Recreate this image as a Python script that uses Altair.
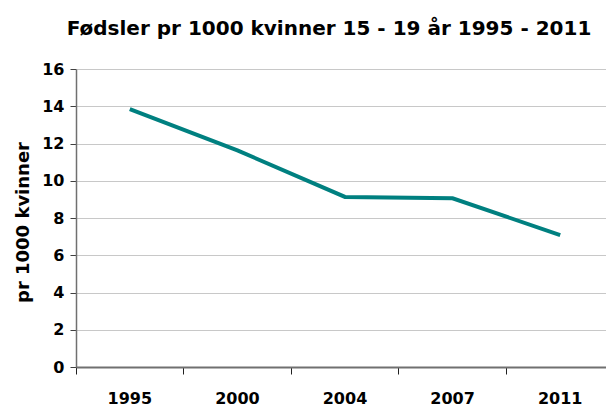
import altair as alt
import pandas as pd

years = ["1995", "2000", "2004", "2007", "2011"]
values = [13.85, 11.63, 9.13, 9.06, 7.08]
y_ticks = [0, 2, 4, 6, 8, 10, 12, 14, 16]

df = pd.DataFrame({"year": years, "value": values})

FONT = "DejaVu Sans"

x_scale = alt.Scale(type="band", domain=years, paddingInner=0, paddingOuter=0, range=[0, 538])
y_scale = alt.Scale(domain=[0, 16], nice=False)

y_axis = alt.Axis(orient="left", title="pr 1000 kvinner", values=y_ticks, labelOverlap=False,
                  grid=True, gridColor="#c8c8c8", gridWidth=1,
                  domainColor="#707070", domainWidth=1.5,
                  tickColor="#404040", tickSize=6,
                  labelFont=FONT, labelFontSize=16, labelFontWeight="bold",
                  labelColor="#000000", labelPadding=6,
                  titleFont=FONT, titleFontSize=18, titleFontWeight="bold",
                  titleColor="#000000", titleX=-53, titleY=153,
                  titleAngle=-90, titleBaseline="middle", titleAlign="center")

line = alt.Chart(df).mark_line(color="#008080", strokeWidth=4).encode(
    x=alt.X("year:N", scale=x_scale, sort=years,
            axis=alt.Axis(orient="bottom", title=None, ticks=False, domain=False, grid=False,
                          labelAngle=0, labelFont=FONT, labelFontSize=16,
                          labelFontWeight="bold", labelColor="#000000",
                          labelPadding=23)),
    y=alt.Y("value:Q", scale=y_scale, axis=y_axis),
)

ticks = alt.Chart(df).mark_line(opacity=0).encode(
    x=alt.X("year:N", scale=x_scale, sort=years,
            axis=alt.Axis(orient="bottom", title=None, labels=False, grid=False, bandPosition=0,
                          domainColor="#707070", domainWidth=2,
                          tickColor="#202020", tickSize=7)),
    y=alt.Y("value:Q", scale=y_scale, axis=y_axis),
)

chart = alt.layer(ticks, line).resolve_axis(x="independent", y="shared").properties(
    width=530,
    height=298,
    autosize=alt.AutoSizeParams(type="none"),
    padding={"left": 68, "top": 61, "right": 0, "bottom": 39},
    view=alt.ViewBackground(stroke="transparent", strokeWidth=0),
    title=alt.TitleParams(
        text="Fødsler pr 1000 kvinner 15 - 19 år 1995 - 2011",
        font=FONT, fontSize=20, fontWeight="bold", color="#000000",
        anchor="middle", dx=-12, offset=22,
    ),
).configure_view(strokeWidth=0, strokeOpacity=0).configure(background="#ffffff")

chart.save("out.html", embed_options={"renderer": "svg", "actions": False})
